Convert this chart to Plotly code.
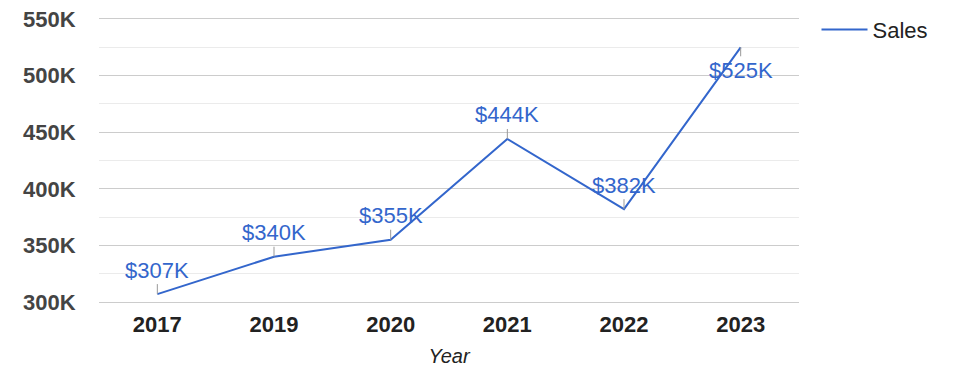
import plotly.graph_objects as go

years = ["2017", "2019", "2020", "2021", "2022", "2023"]
sales = [307000, 340000, 355000, 444000, 382000, 525000]
labels = ["$307K", "$340K", "$355K", "$444K", "$382K", "$525K"]
label_above = [True, True, True, True, True, False]
ytick_vals = [300000, 350000, 400000, 450000, 500000, 550000]
ytick_text = ["300K", "350K", "400K", "450K", "500K", "550K"]

BLUE = "#3366cc"
FONT = "Liberation Sans, Arial, sans-serif"

xpos = list(range(len(years)))

fig = go.Figure()
fig.add_trace(go.Scatter(
    x=xpos, y=sales, mode="lines", name="Sales",
    line=dict(color=BLUE, width=2), hoverinfo="skip",
))

for x, y, t, up in zip(xpos, sales, labels, label_above):
    fig.add_annotation(
        x=x, y=y, xref="x", yref="y", text=t, showarrow=True, arrowhead=0, arrowwidth=1,
        arrowcolor="#999999", ax=0, ay=-24 if up else 23,
        font=dict(family=FONT, size=22, color=BLUE),
    )

fig.update_layout(
    width=967, height=370,
    margin=dict(l=91, r=176, t=11, b=76, autoexpand=False),
    paper_bgcolor="white", plot_bgcolor="white",
    font=dict(family=FONT, color="#222222"),
    showlegend=True,
    legend=dict(x=1.025, y=1.036, xanchor="left", yanchor="top", itemwidth=46,
                font=dict(family=FONT, size=22, color="#222222"),
                bgcolor="rgba(0,0,0,0)"),
    xaxis=dict(
        range=[-0.5, 5.5], tickvals=xpos, ticktext=years,
        showgrid=False, zeroline=False,
        showline=True, linecolor="#cccccc", linewidth=1, mirror=True,
        ticks="outside", ticklen=3, tickcolor="rgba(0,0,0,0)",
        tickfont=dict(family=FONT, size=22, color="#222222", weight="bold"),
        title=dict(text="Year", font=dict(family=FONT, size=20, color="#222222", style="italic"),
                   standoff=12),
    ),
    yaxis=dict(
        range=[300000, 550000], tickvals=ytick_vals, ticktext=ytick_text,
        showgrid=True, gridcolor="#cccccc", gridwidth=1, zeroline=False,
        showline=False, ticks="outside", ticklen=18, tickcolor="rgba(0,0,0,0)",
        ticklabeloverflow="allow",
        tickfont=dict(family=FONT, size=22, color="#444444", weight="bold"),
        minor=dict(dtick=25000, tick0=0, showgrid=True, gridcolor="#ebebeb", gridwidth=1),
    ),
)

fig.write_html("out.html")
